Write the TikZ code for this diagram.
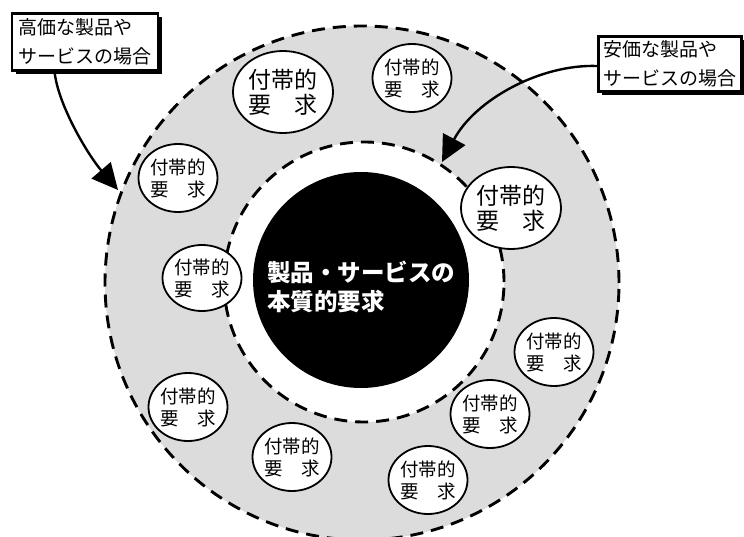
\documentclass[tikz,border=0pt]{standalone}
\usepackage{fontspec}
\setmainfont{Noto Sans CJK JP}
\usetikzlibrary{shapes.geometric,arrows.meta,shadows}
\definecolor{ringgray}{RGB}{220,220,220}
\tikzset{
  ringline/.style={line width=2.9pt,dash pattern=on 13pt off 8pt},
  reqsmall/.style={ellipse,draw,line width=1.8pt,fill=white,inner sep=0pt,
    minimum width=79pt,minimum height=68pt,align=center,
    font=\fontsize{18.5}{22}\selectfont},
  reqbig/.style={ellipse,draw,line width=1.8pt,fill=white,inner sep=0pt,
    minimum width=100pt,minimum height=82pt,align=center,
    font=\fontsize{23}{25}\selectfont},
  callout/.style={draw,line width=2.8pt,fill=white,inner sep=0pt,align=left,
    font=\fontsize{19}{29}\selectfont,
    drop shadow={shadow xshift=3.5pt,shadow yshift=-3.5pt,opacity=1,fill=black}},
  bigarrow/.style={line width=2.4pt,-{Triangle[length=26pt,width=25pt]}},
}
\begin{document}
\begin{tikzpicture}[x=1pt,y=-1pt]
\useasboundingbox (0,0) rectangle (744,537);
% ring
\fill[ringgray] (362,283) circle (257pt);
\fill[white] (364,282) circle (140pt);
\draw[ringline] (362,283) circle (257pt);
\draw[ringline] (364,282) circle (140pt);
% core
\fill[black] (361,280) circle (108pt);
\node[text=white,font=\fontsize{23.5}{29}\selectfont\bfseries,align=left,inner sep=0pt]
  (core) at (361,287) {製品・サービスの\\本質的要求};
% accessory requirements
\node[reqbig]   (e1)  at (283,92)  {付帯的\\要　求};
\node[reqsmall] (e2)  at (412,78)  {付帯的\\要　求};
\node[reqsmall] (e3)  at (178,178) {付帯的\\要　求};
\node[reqbig]   (e4)  at (511,208) {付帯的\\要　求};
\node[reqsmall,minimum height=66pt] (e5)  at (202,278) {付帯的\\要　求};
\node[reqsmall] (e6)  at (188,407) {付帯的\\要　求};
\node[reqsmall] (e7)  at (292,457) {付帯的\\要　求};
\node[reqsmall] (e8)  at (554,352) {付帯的\\要　求};
\node[reqsmall] (e9)  at (490,414) {付帯的\\要　求};
\node[reqsmall] (e10) at (428,480) {付帯的\\要　求};
% callouts
\node[callout,minimum width=146pt,minimum height=57pt] (hb) at (85,42) {高価な製品や\\サービスの場合};
\node[callout,minimum width=143pt,minimum height=55pt] (lb) at (670,64) {安価な製品や\\サービスの場合};
% arrows
\coordinate (ht) at (118,190);
\coordinate (lt) at (442,162);
\draw[bigarrow] ([xshift=44pt]hb.south west) .. controls (58,105) and (88,155) .. (ht);
\draw[bigarrow] ([yshift=-2pt]lb.west) .. controls (540,64) and (475,100) .. (lt);
\end{tikzpicture}
\end{document}
